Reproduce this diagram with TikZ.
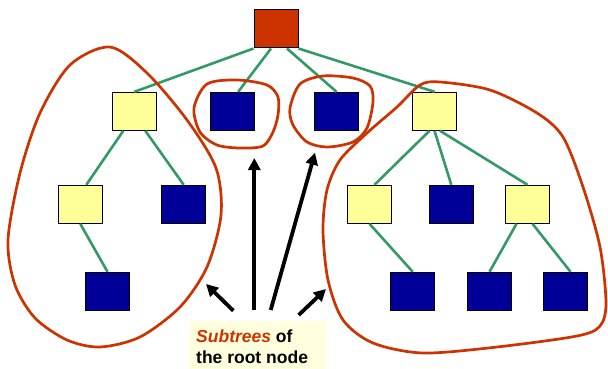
\documentclass[tikz,border=0pt]{standalone}
\usepackage{fontspec}
\setmainfont{Liberation Sans}
\usetikzlibrary{arrows.meta}
\definecolor{rootred}{HTML}{CC3300}
\definecolor{leafblue}{HTML}{000099}
\definecolor{innyellow}{HTML}{FFFF99}
\definecolor{linkgreen}{HTML}{339966}
\definecolor{notefill}{HTML}{FFFFDD}
\tikzset{
  tnode/.style={draw=black, line width=1pt, minimum width=44pt, minimum height=38pt, inner sep=0pt},
  rootnode/.style={tnode, fill=rootred},
  innernode/.style={tnode, fill=innyellow},
  leafnode/.style={tnode, fill=leafblue},
  link/.style={linkgreen, line width=2.6pt},
  hull/.style={rootred, line width=2.7pt},
  pointer/.style={black, line width=3.8pt, -{Triangle[length=12pt,width=12pt]}},
  notetext/.style={anchor=base west, inner sep=0pt, font=\bfseries\fontsize{17.5}{20.7}\selectfont}
}

\begin{document}
\begin{tikzpicture}[x=1pt,y=-1pt]
\useasboundingbox (0,0) rectangle (608,369);
\node[rootnode] (root) at (276,29) {};
\node[innernode] (a) at (134.3,111.3) {};
\node[leafnode] (b) at (232.7,111.3) {};
\node[leafnode] (c) at (336.5,111.3) {};
\node[innernode] (d) at (434.5,111.3) {};
\node[innernode] (a1) at (80.3,204.3) {};
\node[leafnode] (a2) at (183.7,204.3) {};
\node[innernode] (d1) at (369.5,204.3) {};
\node[leafnode] (d2) at (451.3,204.3) {};
\node[innernode] (d3) at (527.5,204.3) {};
\node[leafnode] (a11) at (107.5,291.3) {};
\node[leafnode] (d11) at (412.7,291.3) {};
\node[leafnode] (d31) at (489.5,291.3) {};
\node[leafnode] (d32) at (565.5,291.3) {};

\draw[link] (root.south west) -- (a.north);
\draw[link] ([xshift=-5pt]root.south) -- ([xshift=5.5pt]b.north);
\draw[link] ([xshift=11pt]root.south) -- (c.north);
\draw[link] (root.south east) -- (d.north);
\draw[link] ([xshift=-11pt]a.south) -- ([xshift=6pt]a1.north);
\draw[link] ([xshift=11pt]a.south) -- (a2.north);
\draw[link] (a1.south) -- (a11.north);
\draw[link] ([xshift=-5pt]d.south) -- ([xshift=5pt]d1.north);
\draw[link] (d.south) -- (d2.north);
\draw[link] ([xshift=5.5pt]d.south) -- (d3.north);
\draw[link] (d1.south) -- (d11.north);
\draw[link] ([xshift=-11pt]d3.south) -- (d31.north);
\draw[link] ([xshift=5pt]d3.south) -- ([xshift=5pt]d32.north);

\draw[hull] plot[smooth cycle] coordinates {(110,47) (70,65) (40,113) (20,173) (8,240) (15,285) (35,318) (67,340) (100,347) (140,337) (180,307) (207,267) (221,215) (216,168) (187,120) (147,73)};
\draw[hull] plot[smooth cycle] coordinates {(194,108) (207,84) (237,80) (267,85) (278,97) (278,115) (273,132) (263,146) (240,148) (217,145) (200,132)};
\draw[hull] plot[smooth cycle] coordinates {(290,108) (300,84) (323,76) (353,78) (370,86) (373,102) (367,128) (353,142) (327,147) (307,142) (293,125)};
\draw[hull] plot[smooth cycle] coordinates {(420,85) (440,82) (490,90) (537,113) (563,137) (583,187) (600,247) (606,303) (600,326) (577,336) (497,347) (423,353) (373,343) (343,320) (328,280) (323,230) (327,190) (340,160) (367,133) (397,107)};

\fill[notefill] (189,321) rectangle (326,372);
\node[notetext] (lblA) at (196,342.7) {\textcolor{rootred}{\itshape Subtrees} of};
\node[notetext] (lblB) at (196,363.3) {the root node};

\coordinate (tailL) at (233.3,310.7);
\coordinate (tipL) at (206,284);
\coordinate (tailB) at (254.3,310);
\coordinate (tipB) at (254.3,158);
\coordinate (tailC) at (270.7,310);
\coordinate (tipC) at (315,152.7);
\coordinate (tailD) at (298.7,315);
\coordinate (tipD) at (326,289);
\draw[pointer] (tailL) -- (tipL);
\draw[pointer] (tailB) -- (tipB);
\draw[pointer] (tailC) -- (tipC);
\draw[pointer] (tailD) -- (tipD);
\end{tikzpicture}
\end{document}
